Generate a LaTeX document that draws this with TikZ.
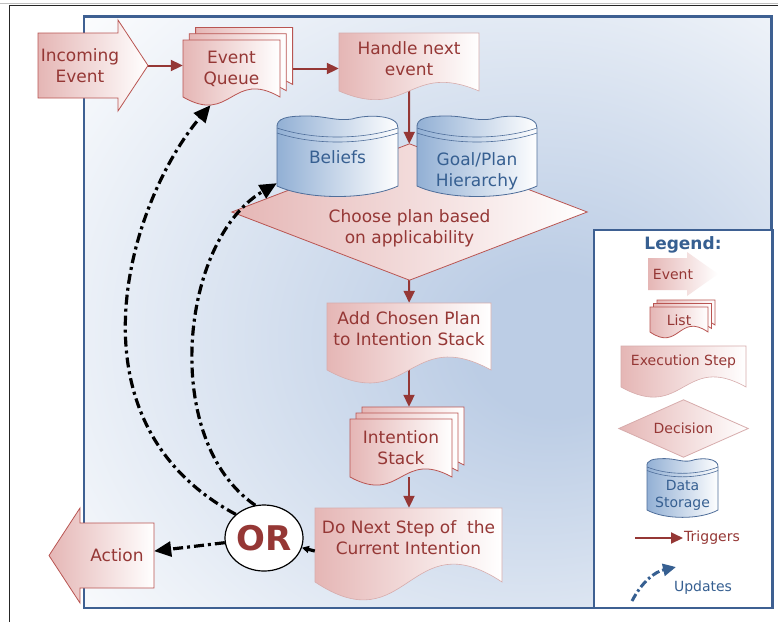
\documentclass[tikz,border=0pt]{standalone}
\usepackage{fontspec}
\setmainfont{DejaVu Sans}
\usepackage{xcolor}
\usepackage{tikz}
\usetikzlibrary{shapes,arrows.meta,positioning,calc}

\definecolor{txtred}{RGB}{149,55,53}
\definecolor{txtblue}{RGB}{54,95,145}
\definecolor{arrred}{RGB}{149,55,53}
\definecolor{pinkfill}{RGB}{229,182,181}
\definecolor{pinkline}{RGB}{185,85,82}
\definecolor{docline}{RGB}{215,172,172}
\definecolor{cylfill}{RGB}{145,175,212}
\definecolor{cylline}{RGB}{79,110,154}
\definecolor{frameblue}{RGB}{62,96,146}
\definecolor{frmid}{RGB}{188,205,229}

\pgfdeclarelayer{back}
\pgfdeclarelayer{mid}
\pgfsetlayers{back,mid,main}

\pgfdeclareradialshading{framesh}{\pgfpoint{10bp}{-3bp}}{color(0bp)=(frmid); color(6bp)=(frmid); color(42bp)=(white); color(80bp)=(white)}

% text moved up or down inside its box
\newcommand{\lowtext}[2]{\raisebox{#1}[0pt][0pt]{\begin{tabular}{@{}c@{}}#2\end{tabular}}}

% document page with a wavy lower edge
\newcommand{\docshape}[6][docsh]{%
  \path[#1] (#2,#3) -- (#4,#3) -- (#4,#5)
    .. controls ({(#2+#4)/2},{#5-#6}) and ({(#2+#4)/2},{#5+#6}) .. (#2,#5) -- cycle;}

% three pages on top of each other
\newcommand{\listshape}[6]{%
  \begin{scope}[shift={({2*#6},{-2*#6})}]\docshape[listsh]{#1}{#2}{#3}{#4}{#5}\end{scope}
  \begin{scope}[shift={(#6,-#6)}]\docshape[listsh]{#1}{#2}{#3}{#4}{#5}\end{scope}
  \docshape[listsh]{#1}{#2}{#3}{#4}{#5}}

% block arrow (body x1..x2, tip xt)
\newcommand{\evarrow}[7][evsh]{%
  \path[#1] (#2,#5) -- (#3,#5) -- (#3,{#5-#7}) -- (#4,{(#5+#6)/2})
    -- (#3,{#6+#7}) -- (#3,#6) -- (#2,#6) -- cycle;}

% data storage drum
\newcommand{\cylshape}[5]{%
  \pgfmathsetmacro{\cw}{#3-#1}
  \path[cylsh] (#1,#2) -- (#1,#4)
    .. controls ({#1+0.25*\cw},{#4+14*#5}) and ({#3-0.25*\cw},{#4+14*#5}) .. (#3,#4) -- (#3,#2)
    .. controls ({#3+1},{#2-13*#5}) and ({#1+0.75*\cw},{#2-14*#5}) .. ({#1+0.62*\cw},{#2-9*#5})
    .. controls ({#1+0.5*\cw},{#2-6.5*#5}) and ({#1+0.4*\cw},{#2-12*#5}) .. ({#1+0.25*\cw},{#2-12*#5})
    .. controls ({#1+0.08*\cw},{#2-12*#5}) and ({#1-1},{#2-10*#5}) .. (#1,#2) -- cycle;
  \draw[cylline, line width=0.6pt] (#1,#2)
    .. controls ({#1+0.3*\cw},{#2+12*#5}) and ({#3-0.3*\cw},{#2+12*#5}) .. (#3,#2);
  \draw[cylline, line width=0.6pt] (#1,{#2+5*#5})
    .. controls ({#1+0.3*\cw},{#2+17*#5}) and ({#3-0.3*\cw},{#2+17*#5}) .. (#3,{#2+5*#5});}

\begin{document}
\begin{tikzpicture}[
    x=1pt, y=-1pt,
    redtxt/.style={text=txtred, font=\fontsize{17}{21}\selectfont, align=center, inner sep=0pt},
    bluetxt/.style={redtxt, text=txtblue},
    legtxt/.style={text=txtred, font=\fontsize{14}{17}\selectfont, align=center, inner sep=1pt},
    ornode/.style={ellipse, draw=black, line width=1.2pt, fill=white, minimum width=78pt,
      minimum height=66pt, inner sep=0pt, text=txtred, font=\fontsize{34}{40}\selectfont\bfseries},
    trig/.style={draw=arrred, line width=2pt, -{Triangle[length=12pt,width=11pt]}},
    upd/.style={draw=black, line width=3.2pt, dash pattern=on 10pt off 4pt on 3pt off 4pt,
      -{Triangle[length=17pt,width=15pt]}},
    evsh/.style={draw=pinkline, line width=0.8pt, left color=pinkfill, right color=white},
    docsh/.style={draw=docline, line width=0.6pt, left color=pinkfill, right color=white},
    listsh/.style={draw=pinkline, line width=0.8pt, left color=pinkfill, right color=white},
    decsh/.style={draw=pinkline, line width=0.8pt, left color=pinkfill, right color=white},
    cylsh/.style={draw=cylline, line width=0.8pt, left color=cylfill, right color=white},
    frame/.style={draw=frameblue, line width=2.5pt}
  ]
  \useasboundingbox (0,0) rectangle (778,622);

  % main flow
  \node[redtxt, minimum width=80, minimum height=65] (inc) at (80,65.5) {Incoming\\Event};
  \node[redtxt, minimum width=97, minimum height=57] (eq) at (231.5,68.5) {Event\\Queue};
  \node[redtxt, minimum width=140, minimum height=58] (handle) at (409,62) {\lowtext{-2.75pt}{Handle next\\event}};
  \node[bluetxt, minimum width=121, minimum height=58] (bel) at (337.5,157) {Beliefs};
  \node[bluetxt, minimum width=120, minimum height=58] (goal) at (477,157) {\lowtext{-19.25pt}{Goal/Plan\\Hierarchy}};
  \node[redtxt, minimum width=355, minimum height=136] (choose) at (409.5,212) {\lowtext{-20.75pt}{Choose plan based\\on applicability}};
  \node[redtxt, minimum width=164, minimum height=67] (add) at (409,336.5) {\lowtext{1.75pt}{Add Chosen Plan\\to Intention Stack}};
  \node[redtxt, minimum width=102, minimum height=58] (stack) at (401,448) {Intention\\Stack};
  \node[redtxt, minimum width=187, minimum height=74] (do) at (408.5,545) {\lowtext{1.25pt}{Do Next Step of~ the\\Current Intention}};
  \node[ornode] (or) at (264,538) {OR};
  \node[redtxt, minimum width=74, minimum height=65] (act) at (117,555.5) {Action};

  % legend
  \node[text=txtblue, font=\fontsize{17}{20}\selectfont\bfseries] (legtitle) at (683,245) {Legend:};
  \node[legtxt] (lev) at (673,274) {Event};
  \node[legtxt] (llist) at (679,320) {List};
  \node[legtxt] (lexec) at (683.5,362) {Execution Step};
  \node[legtxt, minimum width=129, minimum height=57, inner sep=0pt] (ldec) at (683.5,428.5) {Decision};
  \node[legtxt, text=txtblue] (ldata) at (682.5,495.5) {Data\\Storage};
  \node[legtxt, anchor=west] (trg) at (683,538) {Triggers};
  \node[legtxt, text=txtblue] (upd) at (703,588) {Updates};
  \coordinate (trgS) at (635,538);
  \coordinate (updS) at (632,601);
  \coordinate (updE) at (676,567);

  \begin{pgfonlayer}{back}
    \draw[black!25, line width=1pt] (0,3.2) -- (778,3.2);
    \draw[black!85, line width=0.9pt] (9.5,622) -- (9.5,5) -- (778,5);
    \shade[shading=framesh] (84,16.5) rectangle (771.5,608);
    \draw[frame] (84,16.5) rectangle (771.5,608);
    \draw[frame, fill=white] (594,230) rectangle (772.5,608);

    \draw[trig] (inc) -- (inc -| eq.west);
    \draw[trig] (eq) -- (eq -| handle.west);
    \draw[trig] (handle) -- (choose);
    \draw[trig] (choose) -- (add);
    \draw[trig] (add) -- ([yshift=12pt]add |- stack.north);
    \draw[trig] (add |- stack.south) -- (add |- do.north);
    \draw[trig] (trgS) -- (trg);
  \end{pgfonlayer}

  \begin{pgfonlayer}{mid}
    \evarrow{38}{118}{148}{33}{98}{13}
    \listshape{183}{40}{280}{97}{28}{6.3}
    \docshape{339}{33}{479}{91}{30}
    \path[decsh] (choose.west) -- (choose.north) -- (choose.east) -- (choose.south) -- cycle;
    \cylshape{277}{128}{398}{186}{1}
    \cylshape{417}{128}{537}{186}{1}
    \docshape{327}{303}{491}{370}{45}
    \listshape{350}{419}{452}{477}{28}{6}
    \docshape{315}{508}{502}{582}{62}
    \evarrow{154}{80}{49}{523}{588}{15}
    % legend shapes
    \evarrow[evsh, draw=none]{648}{687}{718}{258}{290}{6}
    \listshape{650}{307}{708}{332}{20}{3.5}
    \docshape{621}{346}{746}{387}{35}
    \path[decsh, draw=docline] (ldec.west) -- (ldec.north) -- (ldec.east) -- (ldec.south) -- cycle;
    \cylshape{647}{467}{718}{510}{0.7}
  \end{pgfonlayer}

  % updates
  \draw[upd] (or) -- (act);
  \draw[upd, -{Triangle[length=7pt,width=7pt]}] ([yshift=-6pt]do.west) -- (or);
  \draw[upd] (or.140) .. controls (60,420) and (130,200) .. ([xshift=-21pt,yshift=-8pt]eq.south);
  \draw[upd] (or.105) .. controls (160,440) and (180,240) .. ([yshift=3pt]bel.south west);
  \draw[upd, draw=txtblue, line width=3pt, dash pattern=on 8pt off 3pt on 2.5pt off 3pt,
    -{Triangle[length=13pt,width=12pt]}] (updS) to[bend left=25] (updE);
\end{tikzpicture}
\end{document}
